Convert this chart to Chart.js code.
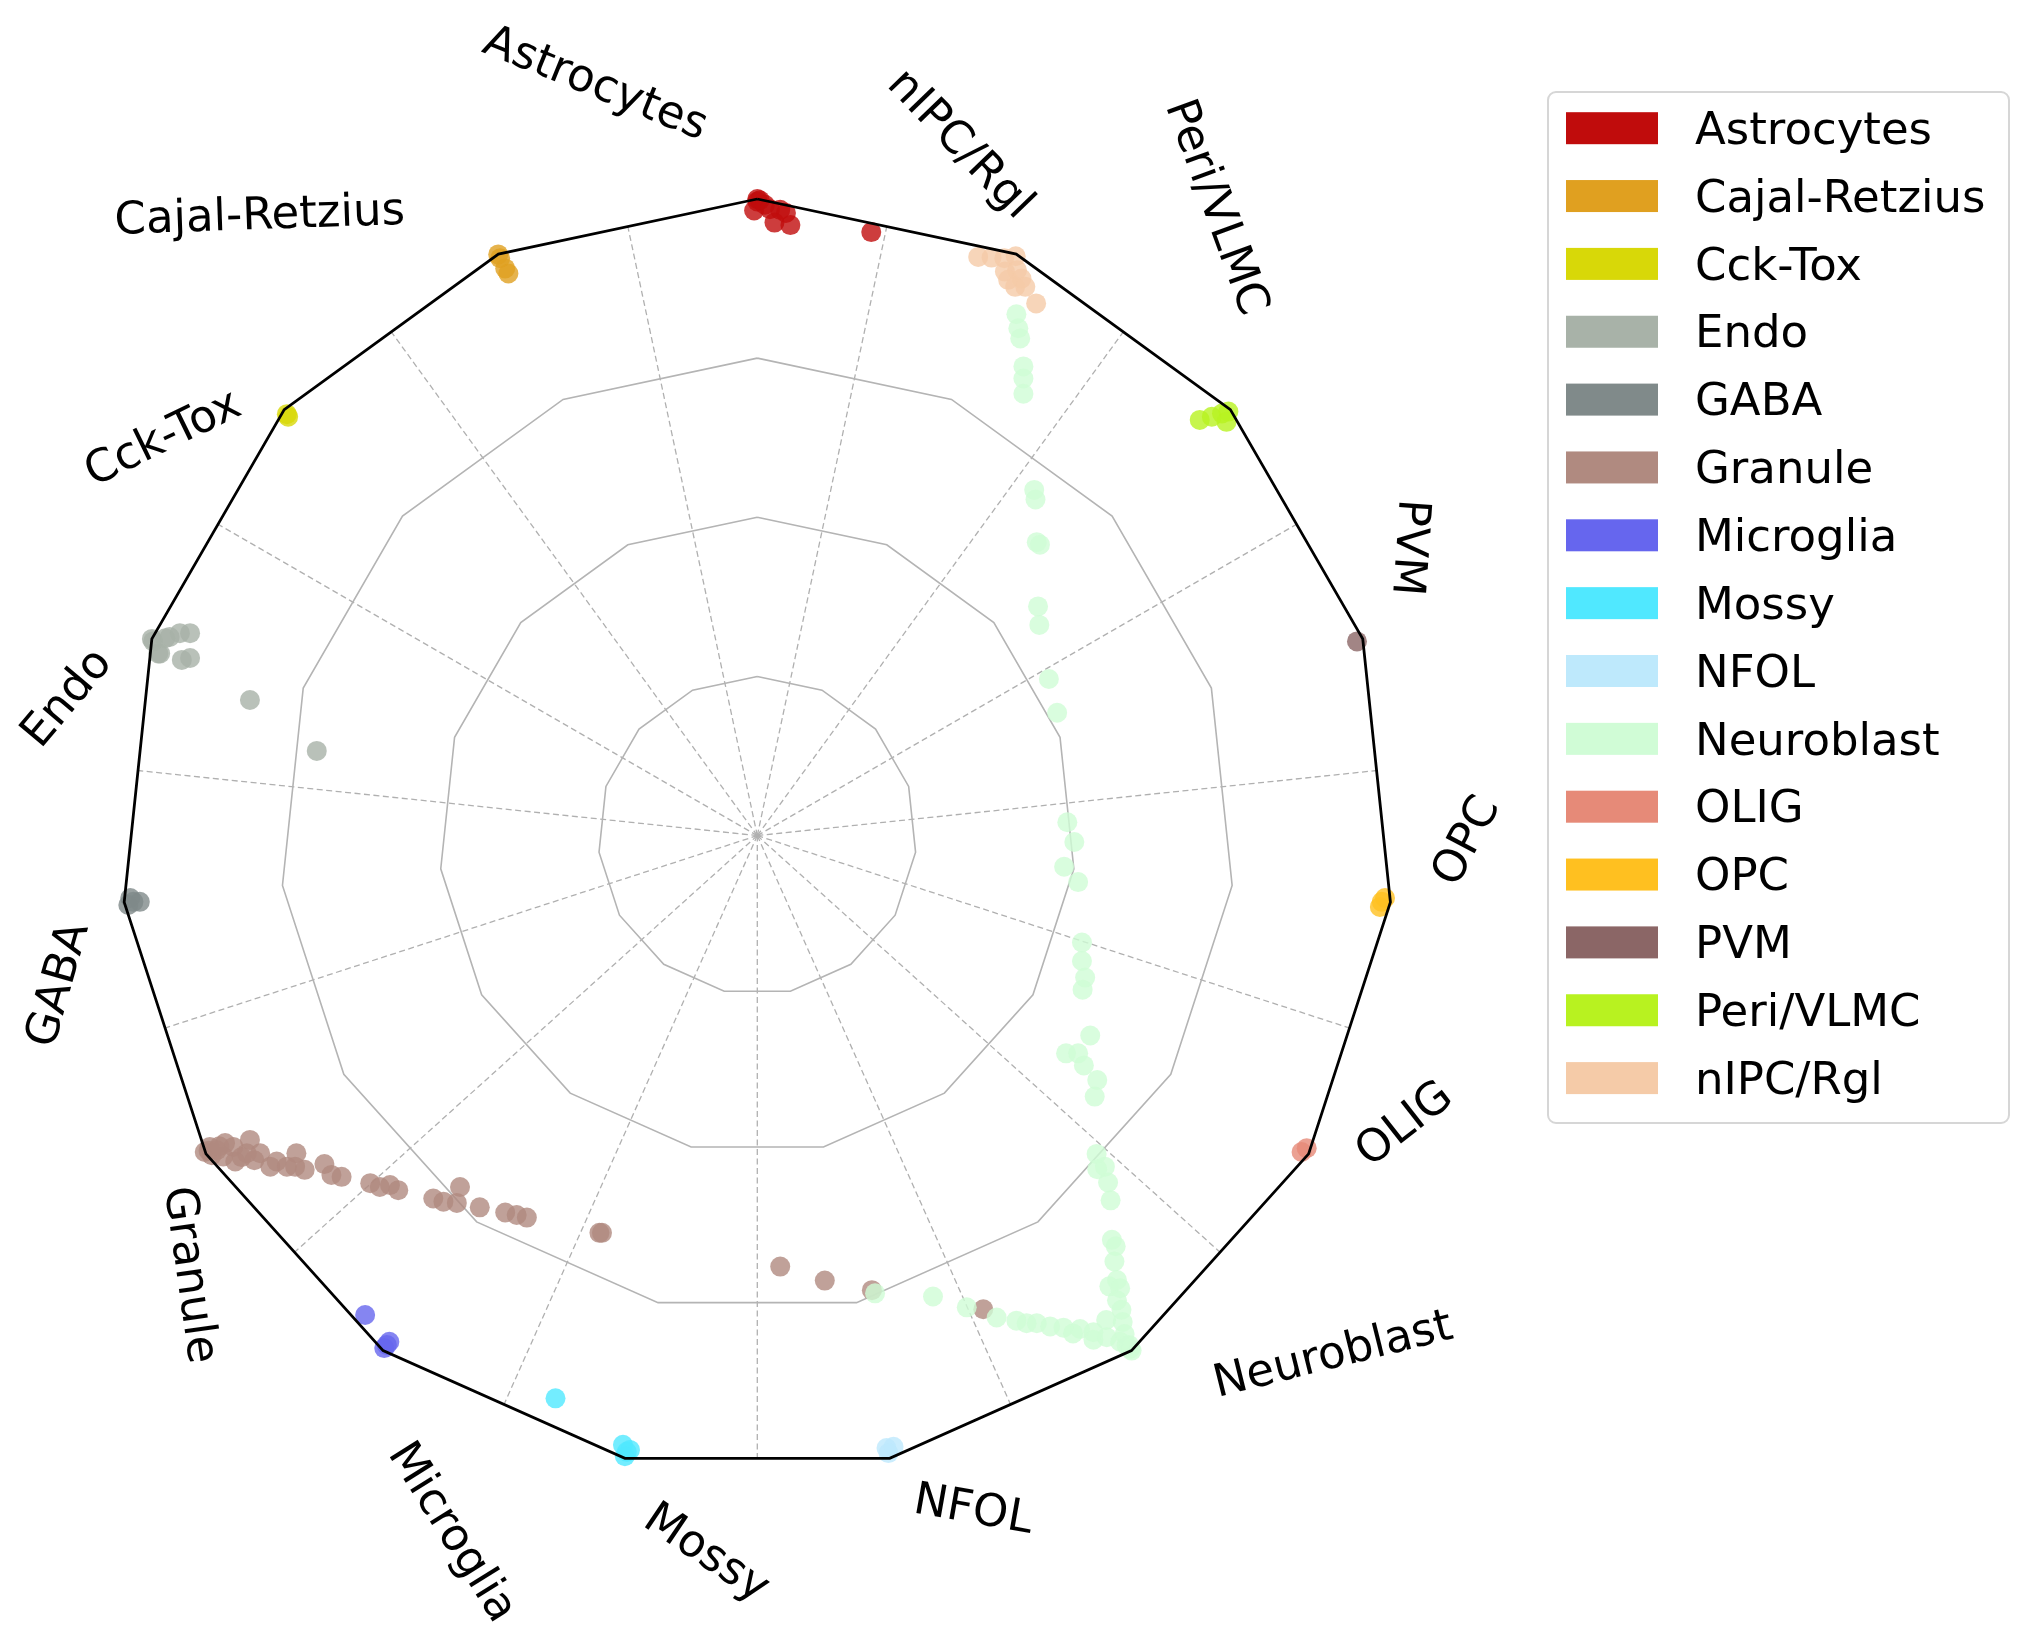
<!DOCTYPE html>
<html>
<head>
<meta charset="utf-8">
<title>Cell type probability polygon</title>
<script src="https://cdn.jsdelivr.net/npm/chart.js@4.4.1/dist/chart.umd.min.js"></script>
<style>
    html, body { margin: 0; padding: 0; background: #ffffff; }
    canvas { display: block; }
</style>
</head>
<body>
<canvas id="polygonChart" width="2018" height="1645"></canvas>
<script>
// Cell types, counter-clockwise from the top vertex
const cellTypes = ['Astrocytes', 'Cajal-Retzius', 'Cck-Tox', 'Endo', 'GABA', 'Granule', 'Microglia',
    'Mossy', 'NFOL', 'Neuroblast', 'OLIG', 'OPC', 'PVM', 'Peri/VLMC', 'nIPC/Rgl'];
const typeColors = ['#c00c0c', '#e0a020', '#d8d808', '#a8b2a8', '#808a8a', '#b08a80', '#6666ee',
    '#50e8ff', '#bee9fc', '#d0fcd6', '#e68a78', '#ffc020', '#8b6666', '#b8f220', '#f5cba8'];

// Ring levels of the polygon grid
const ringLevels = [0.25, 0.5, 0.75];

// Cell positions (x, y), frame radius = 1
const astrocytes = [[0.000, 0.996], [0.000, 1.000], [0.004, 0.998], [-0.005, 0.982], [0.012, 0.991],
    [0.020, 0.984], [0.027, 0.963], [0.045, 0.978], [0.052, 0.959], [0.036, 0.983], [0.179, 0.948]];
const cajalRetzius = [[-0.407, 0.913], [-0.404, 0.907], [-0.396, 0.891], [-0.391, 0.883]];
const cckTox = [[-0.739, 0.662], [-0.737, 0.658]];
const endo = [[-0.951, 0.309], [-0.949, 0.305], [-0.941, 0.286], [-0.938, 0.286], [-0.930, 0.310],
    [-0.923, 0.312], [-0.907, 0.318], [-0.891, 0.318], [-0.904, 0.276], [-0.891, 0.279],
    [-0.797, 0.213], [-0.692, 0.133]];
const gaba = [[-0.985, -0.098], [-0.980, -0.104], [-0.970, -0.104], [-0.988, -0.109]];
const granule = [[-0.868, -0.497], [-0.860, -0.489], [-0.849, -0.494], [-0.836, -0.483], [-0.823, -0.489],
    [-0.820, -0.512], [-0.802, -0.499], [-0.797, -0.478], [-0.781, -0.499], [-0.765, -0.520],
    [-0.755, -0.512], [-0.739, -0.520], [-0.724, -0.499], [-0.726, -0.520], [-0.711, -0.525],
    [-0.857, -0.502], [-0.839, -0.504], [-0.862, -0.495], [-0.845, -0.488], [-0.810, -0.505],
    [-0.790, -0.510], [-0.680, -0.516], [-0.669, -0.533], [-0.653, -0.536], [-0.608, -0.546],
    [-0.593, -0.552], [-0.577, -0.549], [-0.564, -0.557], [-0.509, -0.570], [-0.493, -0.575],
    [-0.467, -0.552], [-0.472, -0.577], [-0.436, -0.584], [-0.396, -0.592], [-0.378, -0.596],
    [-0.362, -0.600], [-0.248, -0.624], [-0.244, -0.624], [0.036, -0.677], [0.106, -0.699],
    [0.180, -0.714], [0.355, -0.744]];
const microglia = [[-0.616, -0.753], [-0.578, -0.795], [-0.586, -0.805], [-0.582, -0.800]];
const mossy = [[-0.317, -0.884], [-0.211, -0.957], [-0.205, -0.968], [-0.200, -0.965], [-0.208, -0.975]];
const nfol = [[0.203, -0.962], [0.214, -0.960], [0.206, -0.970]];
const neuroblast = [[0.407, 0.819], [0.410, 0.797], [0.413, 0.781], [0.418, 0.737], [0.418, 0.718],
    [0.418, 0.694], [0.435, 0.543], [0.437, 0.528], [0.439, 0.461], [0.444, 0.457], [0.441, 0.360],
    [0.443, 0.331], [0.458, 0.246], [0.471, 0.193], [0.487, 0.021], [0.498, -0.010], [0.482, -0.049],
    [0.504, -0.073], [0.510, -0.168], [0.510, -0.197], [0.515, -0.223], [0.511, -0.242], [0.523, -0.314],
    [0.485, -0.342], [0.504, -0.342], [0.513, -0.361], [0.534, -0.384], [0.530, -0.410], [0.533, -0.500],
    [0.546, -0.520], [0.534, -0.524], [0.551, -0.545], [0.555, -0.573], [0.557, -0.635], [0.563, -0.645],
    [0.561, -0.669], [0.565, -0.698], [0.553, -0.708], [0.570, -0.711], [0.565, -0.730], [0.572, -0.745],
    [0.574, -0.764], [0.577, -0.783], [0.584, -0.800], [0.548, -0.761], [0.588, -0.809], [0.586, -0.806],
    [0.376, -0.757], [0.407, -0.762], [0.423, -0.766], [0.439, -0.766], [0.460, -0.771], [0.481, -0.773],
    [0.496, -0.782], [0.507, -0.775], [0.528, -0.780], [0.528, -0.792], [0.549, -0.788], [0.570, -0.795],
    [0.580, -0.801], [0.329, -0.741], [0.276, -0.724], [0.185, -0.719]];
const olig = [[0.855, -0.497], [0.863, -0.491]];
const opc = [[0.981, -0.104], [0.986, -0.098], [0.978, -0.112]];
const pvm = [[0.942, 0.305]];
const periVlmc = [[0.695, 0.653], [0.714, 0.658], [0.730, 0.663], [0.740, 0.666], [0.737, 0.650]];
const nipcRgl = [[0.347, 0.909], [0.368, 0.908], [0.388, 0.907], [0.406, 0.910], [0.389, 0.886],
    [0.408, 0.888], [0.394, 0.873], [0.415, 0.875], [0.405, 0.862], [0.421, 0.862], [0.438, 0.836]];

const cellPoints = [astrocytes, cajalRetzius, cckTox, endo, gaba, granule, microglia,
    mossy, nfol, neuroblast, olig, opc, pvm, periVlmc, nipcRgl];

// Axis label placement: [angle in degrees, radius] around the centre
const labelPlacement = [[102.0, 1.213], [128.6, 1.253], [146.1, 1.128], [168.6, 1.111], [-168.1, 1.128],
    [-142.1, 1.122], [-113.5, 1.190], [-93.9, 1.125], [-72.1, 1.107], [-41.9, 1.213],
    [-23.9, 1.108], [-0.3, 1.109], [23.7, 1.125], [53.7, 1.227], [73.5, 1.137]];

const FONT = '"DejaVu Sans", "Liberation Sans", sans-serif';
const n = cellTypes.length;
const step = 360 / n;
const rad = d => d * Math.PI / 180;

function hexToRgba(hex, a) {
    const v = parseInt(hex.slice(1), 16);
    return `rgba(${(v >> 16) & 255}, ${(v >> 8) & 255}, ${v & 255}, ${a})`;
}

function polygonAt(level) {
    const pts = [];
    for (let k = 0; k <= n; k++) {
        const a = rad(90 + step * k);
        pts.push({ x: level * Math.cos(a), y: level * Math.sin(a) });
    }
    return pts;
}

const datasets = [];

// Grid rings
ringLevels.forEach(level => {
    datasets.push({
        data: polygonAt(level), showLine: true, pointRadius: 0,
        borderColor: '#b4b4b4', borderWidth: 1.6, order: 1000
    });
});

// Dashed spokes, half a step off the vertices
const spokeLen = Math.cos(rad(step / 2));
for (let k = 0; k < n; k++) {
    const a = rad(90 + step / 2 + step * k);
    datasets.push({
        data: [{ x: 0, y: 0 }, { x: spokeLen * Math.cos(a), y: spokeLen * Math.sin(a) }],
        showLine: true, pointRadius: 0, borderColor: '#b0b0b0', borderWidth: 1.3,
        borderDash: [6, 3.5], order: 1000
    });
}

// Cells, later types drawn on top
cellTypes.forEach((name, i) => {
    datasets.push({
        label: name,
        data: cellPoints[i].map(p => ({ x: p[0], y: p[1] })),
        pointRadius: 10, pointHoverRadius: 10, borderWidth: 0,
        backgroundColor: hexToRgba(typeColors[i], 0.8),
        order: 100 - i
    });
});

// Outer frame on top
datasets.push({
    data: polygonAt(1), showLine: true, pointRadius: 0,
    borderColor: '#000000', borderWidth: 2.8, order: 0
});

const axisLabels = {
    id: 'axisLabels',
    afterDraw(chart) {
        const { ctx, scales } = chart;
        ctx.save();
        ctx.font = `45px ${FONT}`;
        ctx.fillStyle = '#000000';
        ctx.textAlign = 'center';
        ctx.textBaseline = 'middle';
        cellTypes.forEach((name, i) => {
            const [ang, r] = labelPlacement[i];
            const px = scales.x.getPixelForValue(r * Math.cos(rad(ang)));
            const py = scales.y.getPixelForValue(r * Math.sin(rad(ang)));
            const nominal = 90 + step * i + step / 2;
            let rot = nominal - 124;
            rot = (((rot + 100) % 180) + 180) % 180 - 100;
            ctx.save();
            ctx.translate(px, py);
            ctx.rotate(-rad(rot));
            ctx.fillText(name, 0, 5);
            ctx.restore();
        });
        ctx.restore();
    }
};

const legendBox = {
    id: 'legendBox',
    afterDraw(chart) {
        const ctx = chart.ctx;
        const bx = 1548, by = 92, bw = 461, bh = 1031;
        ctx.save();
        ctx.beginPath();
        ctx.roundRect(bx, by, bw, bh, 8);
        ctx.fillStyle = 'rgba(255,255,255,0.8)';
        ctx.fill();
        ctx.lineWidth = 2;
        ctx.strokeStyle = '#d6d6d6';
        ctx.stroke();
        ctx.font = `45px ${FONT}`;
        ctx.textBaseline = 'middle';
        ctx.textAlign = 'left';
        cellTypes.forEach((name, i) => {
            const cy = 128.2 + i * 67.85;
            ctx.fillStyle = typeColors[i];
            ctx.fillRect(1566, cy - 16, 92, 32);
            ctx.fillStyle = '#000000';
            ctx.fillText(name, 1695, cy + 4);
        });
        ctx.restore();
    }
};

// Frame radius 636.6 px, centre at (757.3, 835.6)
const span = 1.15, unit = 636.6, cx = 757.3, cy = 835.6;
new Chart(document.getElementById('polygonChart'), {
    type: 'scatter',
    data: { datasets },
    options: {
        responsive: false,
        animation: false,
        layout: {
            padding: {
                left: cx - span * unit,
                right: 2018 - (cx + span * unit),
                top: cy - span * unit,
                bottom: 1645 - (cy + span * unit)
            }
        },
        scales: {
            x: { type: 'linear', min: -span, max: span, display: false },
            y: { type: 'linear', min: -span, max: span, display: false }
        },
        plugins: {
            legend: { display: false },
            tooltip: { enabled: false }
        }
    },
    plugins: [axisLabels, legendBox]
});
</script>
</body>
</html>
